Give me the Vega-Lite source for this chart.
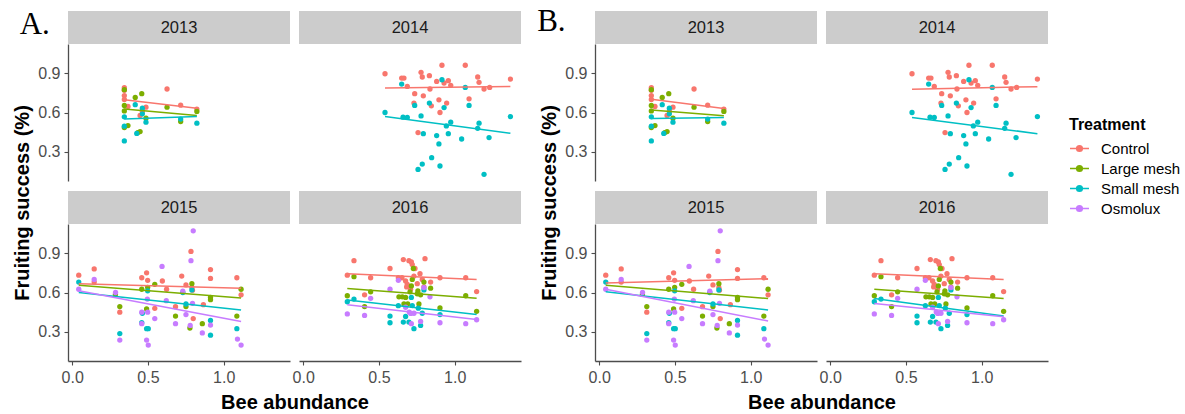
{
  "$schema": "https://vega.github.io/schema/vega-lite/v6.json",
  "padding": {"left": 12, "top": 5, "right": 5, "bottom": 5},
  "background": "white",
  "config": {
    "view": {"stroke": null},
    "axis": {"labelFont": "Liberation Sans", "labelFontSize": 16, "labelColor": "#4d4d4d", "domainColor": "#4d4d4d", "domainWidth": 1.3, "tickColor": "#4d4d4d", "tickWidth": 1.1, "tickSize": 4, "labelPadding": 4, "grid": false, "titleFont": "Liberation Sans", "titleFontSize": 20, "titleFontWeight": "bold", "titleColor": "#000000", "titlePadding": 5},
    "legend": {"titleFont": "Liberation Sans", "titleFontSize": 16, "titleFontWeight": "bold", "titleColor": "#000000", "labelFont": "Liberation Sans", "labelFontSize": 15, "labelColor": "#000000", "rowPadding": 1, "labelOffset": 11, "titlePadding": 5, "padding": 0}
  },
  "datasets": {
    "pts": [
      {"year":"2013","Treatment":"Control","bee":0.344,"fs":0.79},
      {"year":"2013","Treatment":"Control","bee":0.344,"fs":0.77},
      {"year":"2013","Treatment":"Control","bee":0.344,"fs":0.73},
      {"year":"2013","Treatment":"Control","bee":0.344,"fs":0.70},
      {"year":"2013","Treatment":"Control","bee":0.368,"fs":0.646},
      {"year":"2013","Treatment":"Control","bee":0.448,"fs":0.577},
      {"year":"2013","Treatment":"Control","bee":0.463,"fs":0.61},
      {"year":"2013","Treatment":"Control","bee":0.487,"fs":0.641},
      {"year":"2013","Treatment":"Control","bee":0.626,"fs":0.78},
      {"year":"2013","Treatment":"Control","bee":0.716,"fs":0.656},
      {"year":"2013","Treatment":"Control","bee":0.823,"fs":0.626},
      {"year":"2013","Treatment":"Large mesh","bee":0.344,"fs":0.775},
      {"year":"2013","Treatment":"Large mesh","bee":0.344,"fs":0.654},
      {"year":"2013","Treatment":"Large mesh","bee":0.344,"fs":0.612},
      {"year":"2013","Treatment":"Large mesh","bee":0.344,"fs":0.485},
      {"year":"2013","Treatment":"Large mesh","bee":0.368,"fs":0.50},
      {"year":"2013","Treatment":"Large mesh","bee":0.416,"fs":0.715},
      {"year":"2013","Treatment":"Large mesh","bee":0.459,"fs":0.744},
      {"year":"2013","Treatment":"Large mesh","bee":0.433,"fs":0.446},
      {"year":"2013","Treatment":"Large mesh","bee":0.448,"fs":0.454},
      {"year":"2013","Treatment":"Large mesh","bee":0.487,"fs":0.556},
      {"year":"2013","Treatment":"Large mesh","bee":0.626,"fs":0.641},
      {"year":"2013","Treatment":"Large mesh","bee":0.716,"fs":0.531},
      {"year":"2013","Treatment":"Large mesh","bee":0.823,"fs":0.608},
      {"year":"2013","Treatment":"Small mesh","bee":0.344,"fs":0.382},
      {"year":"2013","Treatment":"Small mesh","bee":0.344,"fs":0.495},
      {"year":"2013","Treatment":"Small mesh","bee":0.344,"fs":0.567},
      {"year":"2013","Treatment":"Small mesh","bee":0.416,"fs":0.66},
      {"year":"2013","Treatment":"Small mesh","bee":0.463,"fs":0.633},
      {"year":"2013","Treatment":"Small mesh","bee":0.463,"fs":0.59},
      {"year":"2013","Treatment":"Small mesh","bee":0.426,"fs":0.44},
      {"year":"2013","Treatment":"Small mesh","bee":0.487,"fs":0.526},
      {"year":"2013","Treatment":"Small mesh","bee":0.716,"fs":0.55},
      {"year":"2013","Treatment":"Small mesh","bee":0.823,"fs":0.518},
      {"year":"2014","Treatment":"Control","bee":0.54,"fs":0.897},
      {"year":"2014","Treatment":"Control","bee":0.65,"fs":0.864},
      {"year":"2014","Treatment":"Control","bee":0.665,"fs":0.864},
      {"year":"2014","Treatment":"Control","bee":0.687,"fs":0.80},
      {"year":"2014","Treatment":"Control","bee":0.736,"fs":0.744},
      {"year":"2014","Treatment":"Control","bee":0.731,"fs":0.672},
      {"year":"2014","Treatment":"Control","bee":0.778,"fs":0.908},
      {"year":"2014","Treatment":"Control","bee":0.786,"fs":0.872},
      {"year":"2014","Treatment":"Control","bee":0.793,"fs":0.728},
      {"year":"2014","Treatment":"Control","bee":0.833,"fs":0.882},
      {"year":"2014","Treatment":"Control","bee":0.837,"fs":0.78},
      {"year":"2014","Treatment":"Control","bee":0.846,"fs":0.651},
      {"year":"2014","Treatment":"Control","bee":0.881,"fs":0.838},
      {"year":"2014","Treatment":"Control","bee":0.896,"fs":0.697},
      {"year":"2014","Treatment":"Control","bee":0.903,"fs":0.60},
      {"year":"2014","Treatment":"Control","bee":0.916,"fs":0.962},
      {"year":"2014","Treatment":"Control","bee":0.93,"fs":0.826},
      {"year":"2014","Treatment":"Control","bee":0.947,"fs":0.672},
      {"year":"2014","Treatment":"Control","bee":0.958,"fs":0.844},
      {"year":"2014","Treatment":"Control","bee":0.974,"fs":0.808},
      {"year":"2014","Treatment":"Control","bee":0.758,"fs":0.446},
      {"year":"2014","Treatment":"Control","bee":1.07,"fs":0.962},
      {"year":"2014","Treatment":"Control","bee":1.095,"fs":0.705},
      {"year":"2014","Treatment":"Control","bee":1.152,"fs":0.872},
      {"year":"2014","Treatment":"Control","bee":1.161,"fs":0.831},
      {"year":"2014","Treatment":"Control","bee":1.194,"fs":0.78},
      {"year":"2014","Treatment":"Control","bee":1.231,"fs":0.792},
      {"year":"2014","Treatment":"Control","bee":1.368,"fs":0.856},
      {"year":"2014","Treatment":"Small mesh","bee":0.54,"fs":0.60},
      {"year":"2014","Treatment":"Small mesh","bee":0.65,"fs":0.818},
      {"year":"2014","Treatment":"Small mesh","bee":0.659,"fs":0.564},
      {"year":"2014","Treatment":"Small mesh","bee":0.687,"fs":0.562},
      {"year":"2014","Treatment":"Small mesh","bee":0.736,"fs":0.654},
      {"year":"2014","Treatment":"Small mesh","bee":0.778,"fs":0.574},
      {"year":"2014","Treatment":"Small mesh","bee":0.758,"fs":0.164},
      {"year":"2014","Treatment":"Small mesh","bee":0.786,"fs":0.205},
      {"year":"2014","Treatment":"Small mesh","bee":0.793,"fs":0.438},
      {"year":"2014","Treatment":"Small mesh","bee":0.833,"fs":0.672},
      {"year":"2014","Treatment":"Small mesh","bee":0.848,"fs":0.254},
      {"year":"2014","Treatment":"Small mesh","bee":0.881,"fs":0.423},
      {"year":"2014","Treatment":"Small mesh","bee":0.896,"fs":0.359},
      {"year":"2014","Treatment":"Small mesh","bee":0.903,"fs":0.19},
      {"year":"2014","Treatment":"Small mesh","bee":0.916,"fs":0.851},
      {"year":"2014","Treatment":"Small mesh","bee":0.93,"fs":0.638},
      {"year":"2014","Treatment":"Small mesh","bee":0.945,"fs":0.497},
      {"year":"2014","Treatment":"Small mesh","bee":0.958,"fs":0.438},
      {"year":"2014","Treatment":"Small mesh","bee":0.974,"fs":0.526},
      {"year":"2014","Treatment":"Small mesh","bee":1.046,"fs":0.397},
      {"year":"2014","Treatment":"Small mesh","bee":1.07,"fs":0.792},
      {"year":"2014","Treatment":"Small mesh","bee":1.095,"fs":0.654},
      {"year":"2014","Treatment":"Small mesh","bee":1.152,"fs":0.479},
      {"year":"2014","Treatment":"Small mesh","bee":1.161,"fs":0.518},
      {"year":"2014","Treatment":"Small mesh","bee":1.194,"fs":0.126},
      {"year":"2014","Treatment":"Small mesh","bee":1.227,"fs":0.408},
      {"year":"2014","Treatment":"Small mesh","bee":1.368,"fs":0.569},
      {"year":"2015","Treatment":"Control","bee":0.043,"fs":0.733},
      {"year":"2015","Treatment":"Control","bee":0.145,"fs":0.781},
      {"year":"2015","Treatment":"Control","bee":0.145,"fs":0.68},
      {"year":"2015","Treatment":"Control","bee":0.314,"fs":0.449},
      {"year":"2015","Treatment":"Control","bee":0.459,"fs":0.713},
      {"year":"2015","Treatment":"Control","bee":0.491,"fs":0.751},
      {"year":"2015","Treatment":"Control","bee":0.498,"fs":0.693},
      {"year":"2015","Treatment":"Control","bee":0.595,"fs":0.688},
      {"year":"2015","Treatment":"Control","bee":0.545,"fs":0.479},
      {"year":"2015","Treatment":"Control","bee":0.623,"fs":0.625},
      {"year":"2015","Treatment":"Control","bee":0.682,"fs":0.491},
      {"year":"2015","Treatment":"Control","bee":0.723,"fs":0.726},
      {"year":"2015","Treatment":"Control","bee":0.751,"fs":0.658},
      {"year":"2015","Treatment":"Control","bee":0.784,"fs":0.915},
      {"year":"2015","Treatment":"Control","bee":0.79,"fs":0.638},
      {"year":"2015","Treatment":"Control","bee":0.794,"fs":0.618},
      {"year":"2015","Treatment":"Control","bee":0.799,"fs":0.40},
      {"year":"2015","Treatment":"Control","bee":0.866,"fs":0.507},
      {"year":"2015","Treatment":"Control","bee":0.913,"fs":0.776},
      {"year":"2015","Treatment":"Control","bee":0.913,"fs":0.708},
      {"year":"2015","Treatment":"Control","bee":1.087,"fs":0.713},
      {"year":"2015","Treatment":"Control","bee":1.115,"fs":0.582},
      {"year":"2015","Treatment":"Large mesh","bee":0.285,"fs":0.585},
      {"year":"2015","Treatment":"Large mesh","bee":0.314,"fs":0.492},
      {"year":"2015","Treatment":"Large mesh","bee":0.459,"fs":0.625},
      {"year":"2015","Treatment":"Large mesh","bee":0.491,"fs":0.474},
      {"year":"2015","Treatment":"Large mesh","bee":0.498,"fs":0.64},
      {"year":"2015","Treatment":"Large mesh","bee":0.545,"fs":0.663},
      {"year":"2015","Treatment":"Large mesh","bee":0.682,"fs":0.419},
      {"year":"2015","Treatment":"Large mesh","bee":0.751,"fs":0.492},
      {"year":"2015","Treatment":"Large mesh","bee":0.777,"fs":0.328},
      {"year":"2015","Treatment":"Large mesh","bee":0.79,"fs":0.668},
      {"year":"2015","Treatment":"Large mesh","bee":0.859,"fs":0.361},
      {"year":"2015","Treatment":"Large mesh","bee":0.913,"fs":0.562},
      {"year":"2015","Treatment":"Large mesh","bee":0.913,"fs":0.545},
      {"year":"2015","Treatment":"Large mesh","bee":1.087,"fs":0.419},
      {"year":"2015","Treatment":"Large mesh","bee":1.115,"fs":0.625},
      {"year":"2015","Treatment":"Small mesh","bee":0.043,"fs":0.68},
      {"year":"2015","Treatment":"Small mesh","bee":0.314,"fs":0.285},
      {"year":"2015","Treatment":"Small mesh","bee":0.459,"fs":0.368},
      {"year":"2015","Treatment":"Small mesh","bee":0.463,"fs":0.441},
      {"year":"2015","Treatment":"Small mesh","bee":0.491,"fs":0.323},
      {"year":"2015","Treatment":"Small mesh","bee":0.502,"fs":0.323},
      {"year":"2015","Treatment":"Small mesh","bee":0.498,"fs":0.613},
      {"year":"2015","Treatment":"Small mesh","bee":0.73,"fs":0.60},
      {"year":"2015","Treatment":"Small mesh","bee":0.751,"fs":0.512},
      {"year":"2015","Treatment":"Small mesh","bee":0.79,"fs":0.62},
      {"year":"2015","Treatment":"Small mesh","bee":0.913,"fs":0.386},
      {"year":"2015","Treatment":"Small mesh","bee":0.913,"fs":0.273},
      {"year":"2015","Treatment":"Small mesh","bee":1.087,"fs":0.323},
      {"year":"2015","Treatment":"Osmolux","bee":0.043,"fs":0.625},
      {"year":"2015","Treatment":"Osmolux","bee":0.145,"fs":0.70},
      {"year":"2015","Treatment":"Osmolux","bee":0.286,"fs":0.60},
      {"year":"2015","Treatment":"Osmolux","bee":0.314,"fs":0.235},
      {"year":"2015","Treatment":"Osmolux","bee":0.459,"fs":0.449},
      {"year":"2015","Treatment":"Osmolux","bee":0.459,"fs":0.361},
      {"year":"2015","Treatment":"Osmolux","bee":0.496,"fs":0.55},
      {"year":"2015","Treatment":"Osmolux","bee":0.498,"fs":0.449},
      {"year":"2015","Treatment":"Osmolux","bee":0.491,"fs":0.235},
      {"year":"2015","Treatment":"Osmolux","bee":0.502,"fs":0.197},
      {"year":"2015","Treatment":"Osmolux","bee":0.545,"fs":0.40},
      {"year":"2015","Treatment":"Osmolux","bee":0.593,"fs":0.80},
      {"year":"2015","Treatment":"Osmolux","bee":0.621,"fs":0.537},
      {"year":"2015","Treatment":"Osmolux","bee":0.682,"fs":0.361},
      {"year":"2015","Treatment":"Osmolux","bee":0.73,"fs":0.61},
      {"year":"2015","Treatment":"Osmolux","bee":0.751,"fs":0.431},
      {"year":"2015","Treatment":"Osmolux","bee":0.779,"fs":0.348},
      {"year":"2015","Treatment":"Osmolux","bee":0.784,"fs":0.844},
      {"year":"2015","Treatment":"Osmolux","bee":0.799,"fs":1.073},
      {"year":"2015","Treatment":"Osmolux","bee":0.794,"fs":0.517},
      {"year":"2015","Treatment":"Osmolux","bee":0.859,"fs":0.29},
      {"year":"2015","Treatment":"Osmolux","bee":0.913,"fs":0.35},
      {"year":"2015","Treatment":"Osmolux","bee":1.091,"fs":0.243},
      {"year":"2015","Treatment":"Osmolux","bee":1.115,"fs":0.197},
      {"year":"2016","Treatment":"Control","bee":0.291,"fs":0.733},
      {"year":"2016","Treatment":"Control","bee":0.335,"fs":0.844},
      {"year":"2016","Treatment":"Control","bee":0.445,"fs":0.713},
      {"year":"2016","Treatment":"Control","bee":0.405,"fs":0.582},
      {"year":"2016","Treatment":"Control","bee":0.573,"fs":0.784},
      {"year":"2016","Treatment":"Control","bee":0.628,"fs":0.713},
      {"year":"2016","Treatment":"Control","bee":0.652,"fs":0.713},
      {"year":"2016","Treatment":"Control","bee":0.661,"fs":0.852},
      {"year":"2016","Treatment":"Control","bee":0.676,"fs":0.688},
      {"year":"2016","Treatment":"Control","bee":0.683,"fs":0.643},
      {"year":"2016","Treatment":"Control","bee":0.687,"fs":0.663},
      {"year":"2016","Treatment":"Control","bee":0.698,"fs":0.844},
      {"year":"2016","Treatment":"Control","bee":0.709,"fs":0.625},
      {"year":"2016","Treatment":"Control","bee":0.714,"fs":0.834},
      {"year":"2016","Treatment":"Control","bee":0.72,"fs":0.814},
      {"year":"2016","Treatment":"Control","bee":0.731,"fs":0.726},
      {"year":"2016","Treatment":"Control","bee":0.738,"fs":0.784},
      {"year":"2016","Treatment":"Control","bee":0.753,"fs":0.668},
      {"year":"2016","Treatment":"Control","bee":0.771,"fs":0.744},
      {"year":"2016","Treatment":"Control","bee":0.786,"fs":0.70},
      {"year":"2016","Treatment":"Control","bee":0.797,"fs":0.643},
      {"year":"2016","Treatment":"Control","bee":0.804,"fs":0.859},
      {"year":"2016","Treatment":"Control","bee":0.841,"fs":0.68},
      {"year":"2016","Treatment":"Control","bee":0.903,"fs":0.713},
      {"year":"2016","Treatment":"Control","bee":1.073,"fs":0.713},
      {"year":"2016","Treatment":"Control","bee":1.145,"fs":0.607},
      {"year":"2016","Treatment":"Large mesh","bee":0.291,"fs":0.575},
      {"year":"2016","Treatment":"Large mesh","bee":0.335,"fs":0.721},
      {"year":"2016","Treatment":"Large mesh","bee":0.405,"fs":0.492},
      {"year":"2016","Treatment":"Large mesh","bee":0.445,"fs":0.605},
      {"year":"2016","Treatment":"Large mesh","bee":0.632,"fs":0.567},
      {"year":"2016","Treatment":"Large mesh","bee":0.654,"fs":0.567},
      {"year":"2016","Treatment":"Large mesh","bee":0.676,"fs":0.562},
      {"year":"2016","Treatment":"Large mesh","bee":0.665,"fs":0.512},
      {"year":"2016","Treatment":"Large mesh","bee":0.69,"fs":0.512},
      {"year":"2016","Treatment":"Large mesh","bee":0.705,"fs":0.605},
      {"year":"2016","Treatment":"Large mesh","bee":0.714,"fs":0.65},
      {"year":"2016","Treatment":"Large mesh","bee":0.72,"fs":0.70},
      {"year":"2016","Treatment":"Large mesh","bee":0.727,"fs":0.784},
      {"year":"2016","Treatment":"Large mesh","bee":0.753,"fs":0.59},
      {"year":"2016","Treatment":"Large mesh","bee":0.757,"fs":0.613},
      {"year":"2016","Treatment":"Large mesh","bee":0.764,"fs":0.512},
      {"year":"2016","Treatment":"Large mesh","bee":0.775,"fs":0.582},
      {"year":"2016","Treatment":"Large mesh","bee":0.797,"fs":0.68},
      {"year":"2016","Treatment":"Large mesh","bee":0.841,"fs":0.633},
      {"year":"2016","Treatment":"Large mesh","bee":0.903,"fs":0.482},
      {"year":"2016","Treatment":"Large mesh","bee":1.073,"fs":0.575},
      {"year":"2016","Treatment":"Large mesh","bee":1.145,"fs":0.456},
      {"year":"2016","Treatment":"Small mesh","bee":0.291,"fs":0.529},
      {"year":"2016","Treatment":"Small mesh","bee":0.335,"fs":0.55},
      {"year":"2016","Treatment":"Small mesh","bee":0.573,"fs":0.419},
      {"year":"2016","Treatment":"Small mesh","bee":0.573,"fs":0.368},
      {"year":"2016","Treatment":"Small mesh","bee":0.628,"fs":0.499},
      {"year":"2016","Treatment":"Small mesh","bee":0.661,"fs":0.373},
      {"year":"2016","Treatment":"Small mesh","bee":0.676,"fs":0.416},
      {"year":"2016","Treatment":"Small mesh","bee":0.698,"fs":0.373},
      {"year":"2016","Treatment":"Small mesh","bee":0.714,"fs":0.562},
      {"year":"2016","Treatment":"Small mesh","bee":0.72,"fs":0.50},
      {"year":"2016","Treatment":"Small mesh","bee":0.731,"fs":0.323},
      {"year":"2016","Treatment":"Small mesh","bee":0.76,"fs":0.48},
      {"year":"2016","Treatment":"Small mesh","bee":0.775,"fs":0.348},
      {"year":"2016","Treatment":"Small mesh","bee":0.786,"fs":0.441},
      {"year":"2016","Treatment":"Small mesh","bee":0.797,"fs":0.62},
      {"year":"2016","Treatment":"Small mesh","bee":0.903,"fs":0.431},
      {"year":"2016","Treatment":"Osmolux","bee":0.291,"fs":0.436},
      {"year":"2016","Treatment":"Osmolux","bee":0.405,"fs":0.424},
      {"year":"2016","Treatment":"Osmolux","bee":0.445,"fs":0.555},
      {"year":"2016","Treatment":"Osmolux","bee":0.573,"fs":0.625},
      {"year":"2016","Treatment":"Osmolux","bee":0.628,"fs":0.693},
      {"year":"2016","Treatment":"Osmolux","bee":0.676,"fs":0.487},
      {"year":"2016","Treatment":"Osmolux","bee":0.70,"fs":0.45},
      {"year":"2016","Treatment":"Osmolux","bee":0.71,"fs":0.44},
      {"year":"2016","Treatment":"Osmolux","bee":0.714,"fs":0.361},
      {"year":"2016","Treatment":"Osmolux","bee":0.731,"fs":0.441},
      {"year":"2016","Treatment":"Osmolux","bee":0.775,"fs":0.378},
      {"year":"2016","Treatment":"Osmolux","bee":0.797,"fs":0.638},
      {"year":"2016","Treatment":"Osmolux","bee":0.837,"fs":0.567},
      {"year":"2016","Treatment":"Osmolux","bee":0.903,"fs":0.368},
      {"year":"2016","Treatment":"Osmolux","bee":1.073,"fs":0.361},
      {"year":"2016","Treatment":"Osmolux","bee":1.145,"fs":0.391}
    ],
    "fit": [
      {"panel":"A","year":"2013","Treatment":"Control","bee":0.344,"fs":0.697},
      {"panel":"A","year":"2013","Treatment":"Control","bee":0.823,"fs":0.633},
      {"panel":"A","year":"2013","Treatment":"Large mesh","bee":0.344,"fs":0.626},
      {"panel":"A","year":"2013","Treatment":"Large mesh","bee":0.823,"fs":0.577},
      {"panel":"A","year":"2013","Treatment":"Small mesh","bee":0.344,"fs":0.551},
      {"panel":"A","year":"2013","Treatment":"Small mesh","bee":0.823,"fs":0.569},
      {"panel":"A","year":"2014","Treatment":"Control","bee":0.54,"fs":0.787},
      {"panel":"A","year":"2014","Treatment":"Control","bee":1.368,"fs":0.80},
      {"panel":"A","year":"2014","Treatment":"Small mesh","bee":0.54,"fs":0.569},
      {"panel":"A","year":"2014","Treatment":"Small mesh","bee":1.368,"fs":0.441},
      {"panel":"A","year":"2015","Treatment":"Control","bee":0.043,"fs":0.668},
      {"panel":"A","year":"2015","Treatment":"Control","bee":1.115,"fs":0.633},
      {"panel":"A","year":"2015","Treatment":"Large mesh","bee":0.043,"fs":0.655},
      {"panel":"A","year":"2015","Treatment":"Large mesh","bee":1.115,"fs":0.557},
      {"panel":"A","year":"2015","Treatment":"Small mesh","bee":0.043,"fs":0.60},
      {"panel":"A","year":"2015","Treatment":"Small mesh","bee":1.115,"fs":0.466},
      {"panel":"A","year":"2015","Treatment":"Osmolux","bee":0.043,"fs":0.613},
      {"panel":"A","year":"2015","Treatment":"Osmolux","bee":1.115,"fs":0.378},
      {"panel":"A","year":"2016","Treatment":"Control","bee":0.291,"fs":0.744},
      {"panel":"A","year":"2016","Treatment":"Control","bee":1.145,"fs":0.70},
      {"panel":"A","year":"2016","Treatment":"Large mesh","bee":0.291,"fs":0.63},
      {"panel":"A","year":"2016","Treatment":"Large mesh","bee":1.145,"fs":0.555},
      {"panel":"A","year":"2016","Treatment":"Small mesh","bee":0.291,"fs":0.542},
      {"panel":"A","year":"2016","Treatment":"Small mesh","bee":1.145,"fs":0.431},
      {"panel":"A","year":"2016","Treatment":"Osmolux","bee":0.291,"fs":0.507},
      {"panel":"A","year":"2016","Treatment":"Osmolux","bee":1.145,"fs":0.393},
      {"panel":"B","year":"2013","Treatment":"Control","bee":0.344,"fs":0.702},
      {"panel":"B","year":"2013","Treatment":"Control","bee":0.823,"fs":0.631},
      {"panel":"B","year":"2013","Treatment":"Large mesh","bee":0.344,"fs":0.62},
      {"panel":"B","year":"2013","Treatment":"Large mesh","bee":0.823,"fs":0.575},
      {"panel":"B","year":"2013","Treatment":"Small mesh","bee":0.344,"fs":0.554},
      {"panel":"B","year":"2013","Treatment":"Small mesh","bee":0.823,"fs":0.562},
      {"panel":"B","year":"2014","Treatment":"Control","bee":0.54,"fs":0.779},
      {"panel":"B","year":"2014","Treatment":"Control","bee":1.368,"fs":0.798},
      {"panel":"B","year":"2014","Treatment":"Small mesh","bee":0.54,"fs":0.562},
      {"panel":"B","year":"2014","Treatment":"Small mesh","bee":1.368,"fs":0.438},
      {"panel":"B","year":"2015","Treatment":"Control","bee":0.043,"fs":0.673},
      {"panel":"B","year":"2015","Treatment":"Control","bee":1.115,"fs":0.706},
      {"panel":"B","year":"2015","Treatment":"Large mesh","bee":0.043,"fs":0.656},
      {"panel":"B","year":"2015","Treatment":"Large mesh","bee":1.115,"fs":0.554},
      {"panel":"B","year":"2015","Treatment":"Small mesh","bee":0.043,"fs":0.605},
      {"panel":"B","year":"2015","Treatment":"Small mesh","bee":1.115,"fs":0.466},
      {"panel":"B","year":"2015","Treatment":"Osmolux","bee":0.043,"fs":0.625},
      {"panel":"B","year":"2015","Treatment":"Osmolux","bee":1.115,"fs":0.382},
      {"panel":"B","year":"2016","Treatment":"Control","bee":0.291,"fs":0.744},
      {"panel":"B","year":"2016","Treatment":"Control","bee":1.145,"fs":0.699},
      {"panel":"B","year":"2016","Treatment":"Large mesh","bee":0.291,"fs":0.625},
      {"panel":"B","year":"2016","Treatment":"Large mesh","bee":1.145,"fs":0.554},
      {"panel":"B","year":"2016","Treatment":"Small mesh","bee":0.291,"fs":0.554},
      {"panel":"B","year":"2016","Treatment":"Small mesh","bee":1.145,"fs":0.42},
      {"panel":"B","year":"2016","Treatment":"Osmolux","bee":0.291,"fs":0.516},
      {"panel":"B","year":"2016","Treatment":"Osmolux","bee":1.145,"fs":0.415}
    ]
  },
  "columns": 5,
  "spacing": {"row": 0, "column": 9},
  "bounds": "flush",
  "align": "each",
  "concat": [
    {"width":222,"height":33,"data":{"values":[{"label":"2013"}]},
     "title":{"text":"A.","orient":"left","angle":0,"align":"right","baseline":"middle","anchor":"middle","offset":-12,"dy":-3,"font":"Liberation Serif","fontSize":31,"fontWeight":"normal","color":"#000000"},
     "layer":[{"mark":{"type":"rect","color":"#cccccc"},"encoding":{"x":{"value":0},"x2":{"value":"width"},"y":{"value":0},"y2":{"value":"height"}}},
              {"mark":{"type":"text","font":"Liberation Sans","fontSize":16.5,"color":"#1a1a1a"},"encoding":{"text":{"field":"label"}}}]},
    {"width":222,"height":33,"data":{"values":[{"label":"2014"}]},
     "layer":[{"mark":{"type":"rect","color":"#cccccc"},"encoding":{"x":{"value":0},"x2":{"value":"width"},"y":{"value":0},"y2":{"value":"height"}}},
              {"mark":{"type":"text","font":"Liberation Sans","fontSize":16.5,"color":"#1a1a1a"},"encoding":{"text":{"field":"label"}}}]},
    {"width":56,"height":1,"data":{"values":[{}]},"mark":{"type":"text","text":""}},
    {"width":222,"height":33,"data":{"values":[{"label":"2013"}]},
     "title":{"text":"B.","orient":"left","angle":0,"align":"right","baseline":"middle","anchor":"middle","offset":1,"dy":-6,"font":"Liberation Serif","fontSize":31,"fontWeight":"normal","color":"#000000"},
     "layer":[{"mark":{"type":"rect","color":"#cccccc"},"encoding":{"x":{"value":0},"x2":{"value":"width"},"y":{"value":0},"y2":{"value":"height"}}},
              {"mark":{"type":"text","font":"Liberation Sans","fontSize":16.5,"color":"#1a1a1a"},"encoding":{"text":{"field":"label"}}}]},
    {"width":222,"height":33,"data":{"values":[{"label":"2014"}]},
     "layer":[{"mark":{"type":"rect","color":"#cccccc"},"encoding":{"x":{"value":0},"x2":{"value":"width"},"y":{"value":0},"y2":{"value":"height"}}},
              {"mark":{"type":"text","font":"Liberation Sans","fontSize":16.5,"color":"#1a1a1a"},"encoding":{"text":{"field":"label"}}}]},

    {"width":222,"height":137,
     "encoding":{
       "x":{"field":"bee","type":"quantitative","scale":{"domain":[-0.028,1.438],"nice":false,"zero":false},"axis":null},
       "y":{"field":"fs","type":"quantitative","scale":{"domain":[0.075,1.125],"nice":false,"zero":false},"axis":{"values":[0.3,0.6,0.9],"format":".1f","title":"Fruiting success (%)","titleY":158.5}},
       "color":{"field":"Treatment","type":"nominal","scale":{"domain":["Control","Large mesh","Small mesh","Osmolux"],"range":["#F8766D","#7CAE00","#00BFC4","#C77CFF"]},"legend":{"orient":"none","legendX":1001,"legendY":106,"symbolType":"M-1,0L1,0M0.3,0A0.3,0.3,0,1,1,-0.3,0A0.3,0.3,0,1,1,0.3,0Z","symbolSize":361,"symbolStrokeWidth":1.5,"encode":{"symbols":{"update":{"fill":{"scale":"color","field":"value"},"stroke":{"scale":"color","field":"value"},"opacity":{"value":1}}}}}}
     },
     "layer":[
       {"data":{"name":"pts"},"transform":[{"filter":"datum.year == '2013'"}],"mark":{"type":"circle","size":28,"opacity":1}},
       {"data":{"name":"fit"},"transform":[{"filter":"datum.panel == 'A' && datum.year == '2013'"}],"mark":{"type":"line","strokeWidth":1.5}}
     ]},
    {"width":222,"height":137,
     "encoding":{
       "x":{"field":"bee","type":"quantitative","scale":{"domain":[-0.028,1.438],"nice":false,"zero":false},"axis":null},
       "y":{"field":"fs","type":"quantitative","scale":{"domain":[0.075,1.125],"nice":false,"zero":false},"axis":null},
       "color":{"field":"Treatment","type":"nominal","scale":{"domain":["Control","Large mesh","Small mesh","Osmolux"],"range":["#F8766D","#7CAE00","#00BFC4","#C77CFF"]},"legend":{"orient":"none","legendX":1001,"legendY":106,"symbolType":"M-1,0L1,0M0.3,0A0.3,0.3,0,1,1,-0.3,0A0.3,0.3,0,1,1,0.3,0Z","symbolSize":361,"symbolStrokeWidth":1.5,"encode":{"symbols":{"update":{"fill":{"scale":"color","field":"value"},"stroke":{"scale":"color","field":"value"},"opacity":{"value":1}}}}}}
     },
     "layer":[
       {"data":{"name":"pts"},"transform":[{"filter":"datum.year == '2014'"}],"mark":{"type":"circle","size":28,"opacity":1}},
       {"data":{"name":"fit"},"transform":[{"filter":"datum.panel == 'A' && datum.year == '2014'"}],"mark":{"type":"line","strokeWidth":1.5}}
     ]},
    {"width":56,"height":1,"data":{"values":[{}]},"mark":{"type":"text","text":""}},
    {"width":222,"height":137,
     "encoding":{
       "x":{"field":"bee","type":"quantitative","scale":{"domain":[-0.028,1.438],"nice":false,"zero":false},"axis":null},
       "y":{"field":"fs","type":"quantitative","scale":{"domain":[0.075,1.125],"nice":false,"zero":false},"axis":{"values":[0.3,0.6,0.9],"format":".1f","title":"Fruiting success (%)","titleY":158.5}},
       "color":{"field":"Treatment","type":"nominal","scale":{"domain":["Control","Large mesh","Small mesh","Osmolux"],"range":["#F8766D","#7CAE00","#00BFC4","#C77CFF"]},"legend":{"orient":"none","legendX":1001,"legendY":106,"symbolType":"M-1,0L1,0M0.3,0A0.3,0.3,0,1,1,-0.3,0A0.3,0.3,0,1,1,0.3,0Z","symbolSize":361,"symbolStrokeWidth":1.5,"encode":{"symbols":{"update":{"fill":{"scale":"color","field":"value"},"stroke":{"scale":"color","field":"value"},"opacity":{"value":1}}}}}}
     },
     "layer":[
       {"data":{"name":"pts"},"transform":[{"filter":"datum.year == '2013'"}],"mark":{"type":"circle","size":28,"opacity":1}},
       {"data":{"name":"fit"},"transform":[{"filter":"datum.panel == 'B' && datum.year == '2013'"}],"mark":{"type":"line","strokeWidth":1.5}}
     ]},
    {"width":222,"height":137,
     "encoding":{
       "x":{"field":"bee","type":"quantitative","scale":{"domain":[-0.028,1.438],"nice":false,"zero":false},"axis":null},
       "y":{"field":"fs","type":"quantitative","scale":{"domain":[0.075,1.125],"nice":false,"zero":false},"axis":null},
       "color":{"field":"Treatment","type":"nominal","scale":{"domain":["Control","Large mesh","Small mesh","Osmolux"],"range":["#F8766D","#7CAE00","#00BFC4","#C77CFF"]},"legend":{"orient":"none","legendX":1001,"legendY":106,"symbolType":"M-1,0L1,0M0.3,0A0.3,0.3,0,1,1,-0.3,0A0.3,0.3,0,1,1,0.3,0Z","symbolSize":361,"symbolStrokeWidth":1.5,"encode":{"symbols":{"update":{"fill":{"scale":"color","field":"value"},"stroke":{"scale":"color","field":"value"},"opacity":{"value":1}}}}}}
     },
     "layer":[
       {"data":{"name":"pts"},"transform":[{"filter":"datum.year == '2014'"}],"mark":{"type":"circle","size":28,"opacity":1}},
       {"data":{"name":"fit"},"transform":[{"filter":"datum.panel == 'B' && datum.year == '2014'"}],"mark":{"type":"line","strokeWidth":1.5}}
     ]},

    {"width":1,"height":10,"data":{"values":[{}]},"mark":{"type":"text","text":""}},
    {"width":1,"height":10,"data":{"values":[{}]},"mark":{"type":"text","text":""}},
    {"width":56,"height":10,"data":{"values":[{}]},"mark":{"type":"text","text":""}},
    {"width":1,"height":10,"data":{"values":[{}]},"mark":{"type":"text","text":""}},
    {"width":1,"height":10,"data":{"values":[{}]},"mark":{"type":"text","text":""}},

    {"width":222,"height":33,"data":{"values":[{"label":"2015"}]},
     "layer":[{"mark":{"type":"rect","color":"#cccccc"},"encoding":{"x":{"value":0},"x2":{"value":"width"},"y":{"value":0},"y2":{"value":"height"}}},
              {"mark":{"type":"text","font":"Liberation Sans","fontSize":16.5,"color":"#1a1a1a"},"encoding":{"text":{"field":"label"}}}]},
    {"width":222,"height":33,"data":{"values":[{"label":"2016"}]},
     "layer":[{"mark":{"type":"rect","color":"#cccccc"},"encoding":{"x":{"value":0},"x2":{"value":"width"},"y":{"value":0},"y2":{"value":"height"}}},
              {"mark":{"type":"text","font":"Liberation Sans","fontSize":16.5,"color":"#1a1a1a"},"encoding":{"text":{"field":"label"}}}]},
    {"width":56,"height":1,"data":{"values":[{}]},"mark":{"type":"text","text":""}},
    {"width":222,"height":33,"data":{"values":[{"label":"2015"}]},
     "layer":[{"mark":{"type":"rect","color":"#cccccc"},"encoding":{"x":{"value":0},"x2":{"value":"width"},"y":{"value":0},"y2":{"value":"height"}}},
              {"mark":{"type":"text","font":"Liberation Sans","fontSize":16.5,"color":"#1a1a1a"},"encoding":{"text":{"field":"label"}}}]},
    {"width":222,"height":33,"data":{"values":[{"label":"2016"}]},
     "layer":[{"mark":{"type":"rect","color":"#cccccc"},"encoding":{"x":{"value":0},"x2":{"value":"width"},"y":{"value":0},"y2":{"value":"height"}}},
              {"mark":{"type":"text","font":"Liberation Sans","fontSize":16.5,"color":"#1a1a1a"},"encoding":{"text":{"field":"label"}}}]},

    {"width":222,"height":137,
     "encoding":{
       "x":{"field":"bee","type":"quantitative","scale":{"domain":[-0.028,1.438],"nice":false,"zero":false},"axis":{"values":[0,0.5,1],"format":".1f","title":"Bee abundance","titleX":226.5,"titleY":31,"titleBaseline":"top","titleAlign":"center"}},
       "y":{"field":"fs","type":"quantitative","scale":{"domain":[0.075,1.125],"nice":false,"zero":false},"axis":{"values":[0.3,0.6,0.9],"format":".1f","title":null}},
       "color":{"field":"Treatment","type":"nominal","scale":{"domain":["Control","Large mesh","Small mesh","Osmolux"],"range":["#F8766D","#7CAE00","#00BFC4","#C77CFF"]},"legend":{"orient":"none","legendX":1001,"legendY":106,"symbolType":"M-1,0L1,0M0.3,0A0.3,0.3,0,1,1,-0.3,0A0.3,0.3,0,1,1,0.3,0Z","symbolSize":361,"symbolStrokeWidth":1.5,"encode":{"symbols":{"update":{"fill":{"scale":"color","field":"value"},"stroke":{"scale":"color","field":"value"},"opacity":{"value":1}}}}}}
     },
     "layer":[
       {"data":{"name":"pts"},"transform":[{"filter":"datum.year == '2015'"}],"mark":{"type":"circle","size":28,"opacity":1}},
       {"data":{"name":"fit"},"transform":[{"filter":"datum.panel == 'A' && datum.year == '2015'"}],"mark":{"type":"line","strokeWidth":1.5}}
     ]},
    {"width":222,"height":137,
     "encoding":{
       "x":{"field":"bee","type":"quantitative","scale":{"domain":[-0.028,1.438],"nice":false,"zero":false},"axis":{"values":[0,0.5,1],"format":".1f","title":null}},
       "y":{"field":"fs","type":"quantitative","scale":{"domain":[0.075,1.125],"nice":false,"zero":false},"axis":null},
       "color":{"field":"Treatment","type":"nominal","scale":{"domain":["Control","Large mesh","Small mesh","Osmolux"],"range":["#F8766D","#7CAE00","#00BFC4","#C77CFF"]},"legend":{"orient":"none","legendX":1001,"legendY":106,"symbolType":"M-1,0L1,0M0.3,0A0.3,0.3,0,1,1,-0.3,0A0.3,0.3,0,1,1,0.3,0Z","symbolSize":361,"symbolStrokeWidth":1.5,"encode":{"symbols":{"update":{"fill":{"scale":"color","field":"value"},"stroke":{"scale":"color","field":"value"},"opacity":{"value":1}}}}}}
     },
     "layer":[
       {"data":{"name":"pts"},"transform":[{"filter":"datum.year == '2016'"}],"mark":{"type":"circle","size":28,"opacity":1}},
       {"data":{"name":"fit"},"transform":[{"filter":"datum.panel == 'A' && datum.year == '2016'"}],"mark":{"type":"line","strokeWidth":1.5}}
     ]},
    {"width":56,"height":1,"data":{"values":[{}]},"mark":{"type":"text","text":""}},
    {"width":222,"height":137,
     "encoding":{
       "x":{"field":"bee","type":"quantitative","scale":{"domain":[-0.028,1.438],"nice":false,"zero":false},"axis":{"values":[0,0.5,1],"format":".1f","title":"Bee abundance","titleX":226.5,"titleY":31,"titleBaseline":"top","titleAlign":"center"}},
       "y":{"field":"fs","type":"quantitative","scale":{"domain":[0.075,1.125],"nice":false,"zero":false},"axis":{"values":[0.3,0.6,0.9],"format":".1f","title":null}},
       "color":{"field":"Treatment","type":"nominal","scale":{"domain":["Control","Large mesh","Small mesh","Osmolux"],"range":["#F8766D","#7CAE00","#00BFC4","#C77CFF"]},"legend":{"orient":"none","legendX":1001,"legendY":106,"symbolType":"M-1,0L1,0M0.3,0A0.3,0.3,0,1,1,-0.3,0A0.3,0.3,0,1,1,0.3,0Z","symbolSize":361,"symbolStrokeWidth":1.5,"encode":{"symbols":{"update":{"fill":{"scale":"color","field":"value"},"stroke":{"scale":"color","field":"value"},"opacity":{"value":1}}}}}}
     },
     "layer":[
       {"data":{"name":"pts"},"transform":[{"filter":"datum.year == '2015'"}],"mark":{"type":"circle","size":28,"opacity":1}},
       {"data":{"name":"fit"},"transform":[{"filter":"datum.panel == 'B' && datum.year == '2015'"}],"mark":{"type":"line","strokeWidth":1.5}}
     ]},
    {"width":222,"height":137,
     "encoding":{
       "x":{"field":"bee","type":"quantitative","scale":{"domain":[-0.028,1.438],"nice":false,"zero":false},"axis":{"values":[0,0.5,1],"format":".1f","title":null}},
       "y":{"field":"fs","type":"quantitative","scale":{"domain":[0.075,1.125],"nice":false,"zero":false},"axis":null},
       "color":{"field":"Treatment","type":"nominal","scale":{"domain":["Control","Large mesh","Small mesh","Osmolux"],"range":["#F8766D","#7CAE00","#00BFC4","#C77CFF"]},"legend":{"orient":"none","legendX":1001,"legendY":106,"symbolType":"M-1,0L1,0M0.3,0A0.3,0.3,0,1,1,-0.3,0A0.3,0.3,0,1,1,0.3,0Z","symbolSize":361,"symbolStrokeWidth":1.5,"encode":{"symbols":{"update":{"fill":{"scale":"color","field":"value"},"stroke":{"scale":"color","field":"value"},"opacity":{"value":1}}}}}}
     },
     "layer":[
       {"data":{"name":"pts"},"transform":[{"filter":"datum.year == '2016'"}],"mark":{"type":"circle","size":28,"opacity":1}},
       {"data":{"name":"fit"},"transform":[{"filter":"datum.panel == 'B' && datum.year == '2016'"}],"mark":{"type":"line","strokeWidth":1.5}}
     ]}
  ]
}
